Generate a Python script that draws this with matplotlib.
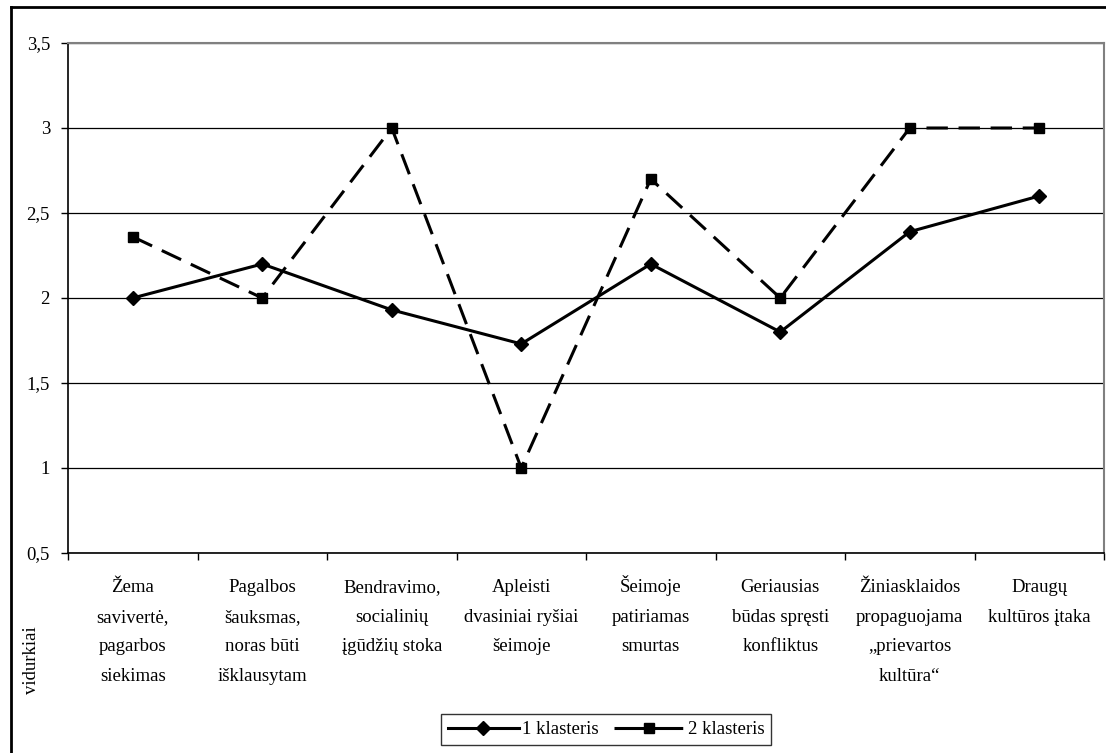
import matplotlib
matplotlib.use("Agg")
import matplotlib.pyplot as plt
import matplotlib.transforms as mtransforms
from matplotlib.lines import Line2D
import numpy as np

categories = [
    "Žema\nsavivertė,\npagarbos\nsiekimas",
    "Pagalbos\nšauksmas,\nnoras būti\nišklausytam",
    "Bendravimo,\nsocialinių\nįgūdžių stoka",
    "Apleisti\ndvasiniai ryšiai\nšeimoje",
    "Šeimoje\npatiriamas\nsmurtas",
    "Geriausias\nbūdas spręsti\nkonfliktus",
    "Žiniasklaidos\npropaguojama\n„prievartos\nkultūra“",
    "Draugų\nkultūros įtaka",
]
series1 = [2.0, 2.2, 1.93, 1.73, 2.2, 1.8, 2.39, 2.6]
series2 = [2.36, 2.0, 3.0, 1.0, 2.7, 2.0, 3.0, 3.0]
series_names = ["1 klasteris", "2 klasteris"]
yticks = [0.5, 1, 1.5, 2, 2.5, 3, 3.5]
ytick_labels = ["0,5", "1", "1,5", "2", "2,5", "3", "3,5"]
ylabel = "vidurkiai"

plt.rcParams['font.family'] = ['Liberation Serif', 'DejaVu Serif']

W, H = 1106, 753
fig = plt.figure(figsize=(W / 100, H / 100), dpi=100)
ax = fig.add_axes([68 / W, 1 - 553 / H, (1104 - 68) / W, (553 - 43) / H])

x = np.arange(len(categories))
ax.plot(x, series1, color='black', lw=2.2, marker='D', markersize=7,
        label=series_names[0], zorder=4)
ax.plot(x, series2, color='black', lw=2.2, marker='s', markersize=7,
        linestyle=(0, (7, 3.5)), label=series_names[1], zorder=4)

ax.set_xlim(-0.5, len(categories) - 0.5)
ax.set_ylim(0.5, 3.5)
ax.set_yticks(yticks)
ax.set_yticklabels(ytick_labels, fontsize=13.5)
ax.yaxis.grid(True, color='black', lw=0.9)
ax.set_axisbelow(True)

# category labels, drawn line by line so every first line shares a baseline
ax.set_xticks(x)
ax.set_xticklabels([])
ax.tick_params(axis='x', length=0)
ax.set_xticks(np.arange(len(categories) + 1) - 0.5, minor=True)
ax.tick_params(axis='x', which='minor', length=5, width=1, direction='out')
ax.tick_params(axis='y', length=5, width=1, direction='out', pad=8)

blend = mtransforms.blended_transform_factory(ax.transData, ax.transAxes)
for i, label in enumerate(categories):
    for k, line in enumerate(label.split("\n")):
        tr = mtransforms.offset_copy(blend, fig=fig, x=0,
                                     y=-(39 + k * 29.6), units='dots')
        ax.text(x[i], 0, line, transform=tr, ha='center', va='baseline',
                fontsize=13.5, clip_on=False)

for s in ['left', 'bottom']:
    ax.spines[s].set_color('black')
    ax.spines[s].set_linewidth(1.2)
for s in ['top', 'right']:
    ax.spines[s].set_color('#808080')
    ax.spines[s].set_linewidth(1.5)

fig.text(32 / W, 1 - 660 / H, ylabel, rotation=90, fontsize=13.5,
         ha='center', va='center')

# legend keys styled like the original (dash segments either side of marker)
h1 = Line2D([], [], color='black', lw=2.2, marker='D', markersize=7)
h2 = Line2D([], [], color='black', lw=2.2, marker='s', markersize=7,
            linestyle=(0, (10.5, 1.5)))
leg = ax.legend([h1, h2], series_names, loc='center',
                bbox_to_anchor=(606 / W, 1 - 729.5 / H),
                bbox_transform=fig.transFigure, ncol=2, fontsize=13.5,
                frameon=True, fancybox=False, edgecolor='black',
                handlelength=3.8, handletextpad=0.15, columnspacing=0.8,
                borderpad=0.35, borderaxespad=0)
leg.get_frame().set_linewidth(1.0)

# outer chart border
fig.add_artist(Line2D([10.5 / W, 10.5 / W], [0, 1 - 7 / H], color='black',
                      lw=2, transform=fig.transFigure))
fig.add_artist(Line2D([10.5 / W, 1], [1 - 7 / H, 1 - 7 / H], color='black',
                      lw=2, transform=fig.transFigure))

fig.savefig("out.png", dpi=100)
